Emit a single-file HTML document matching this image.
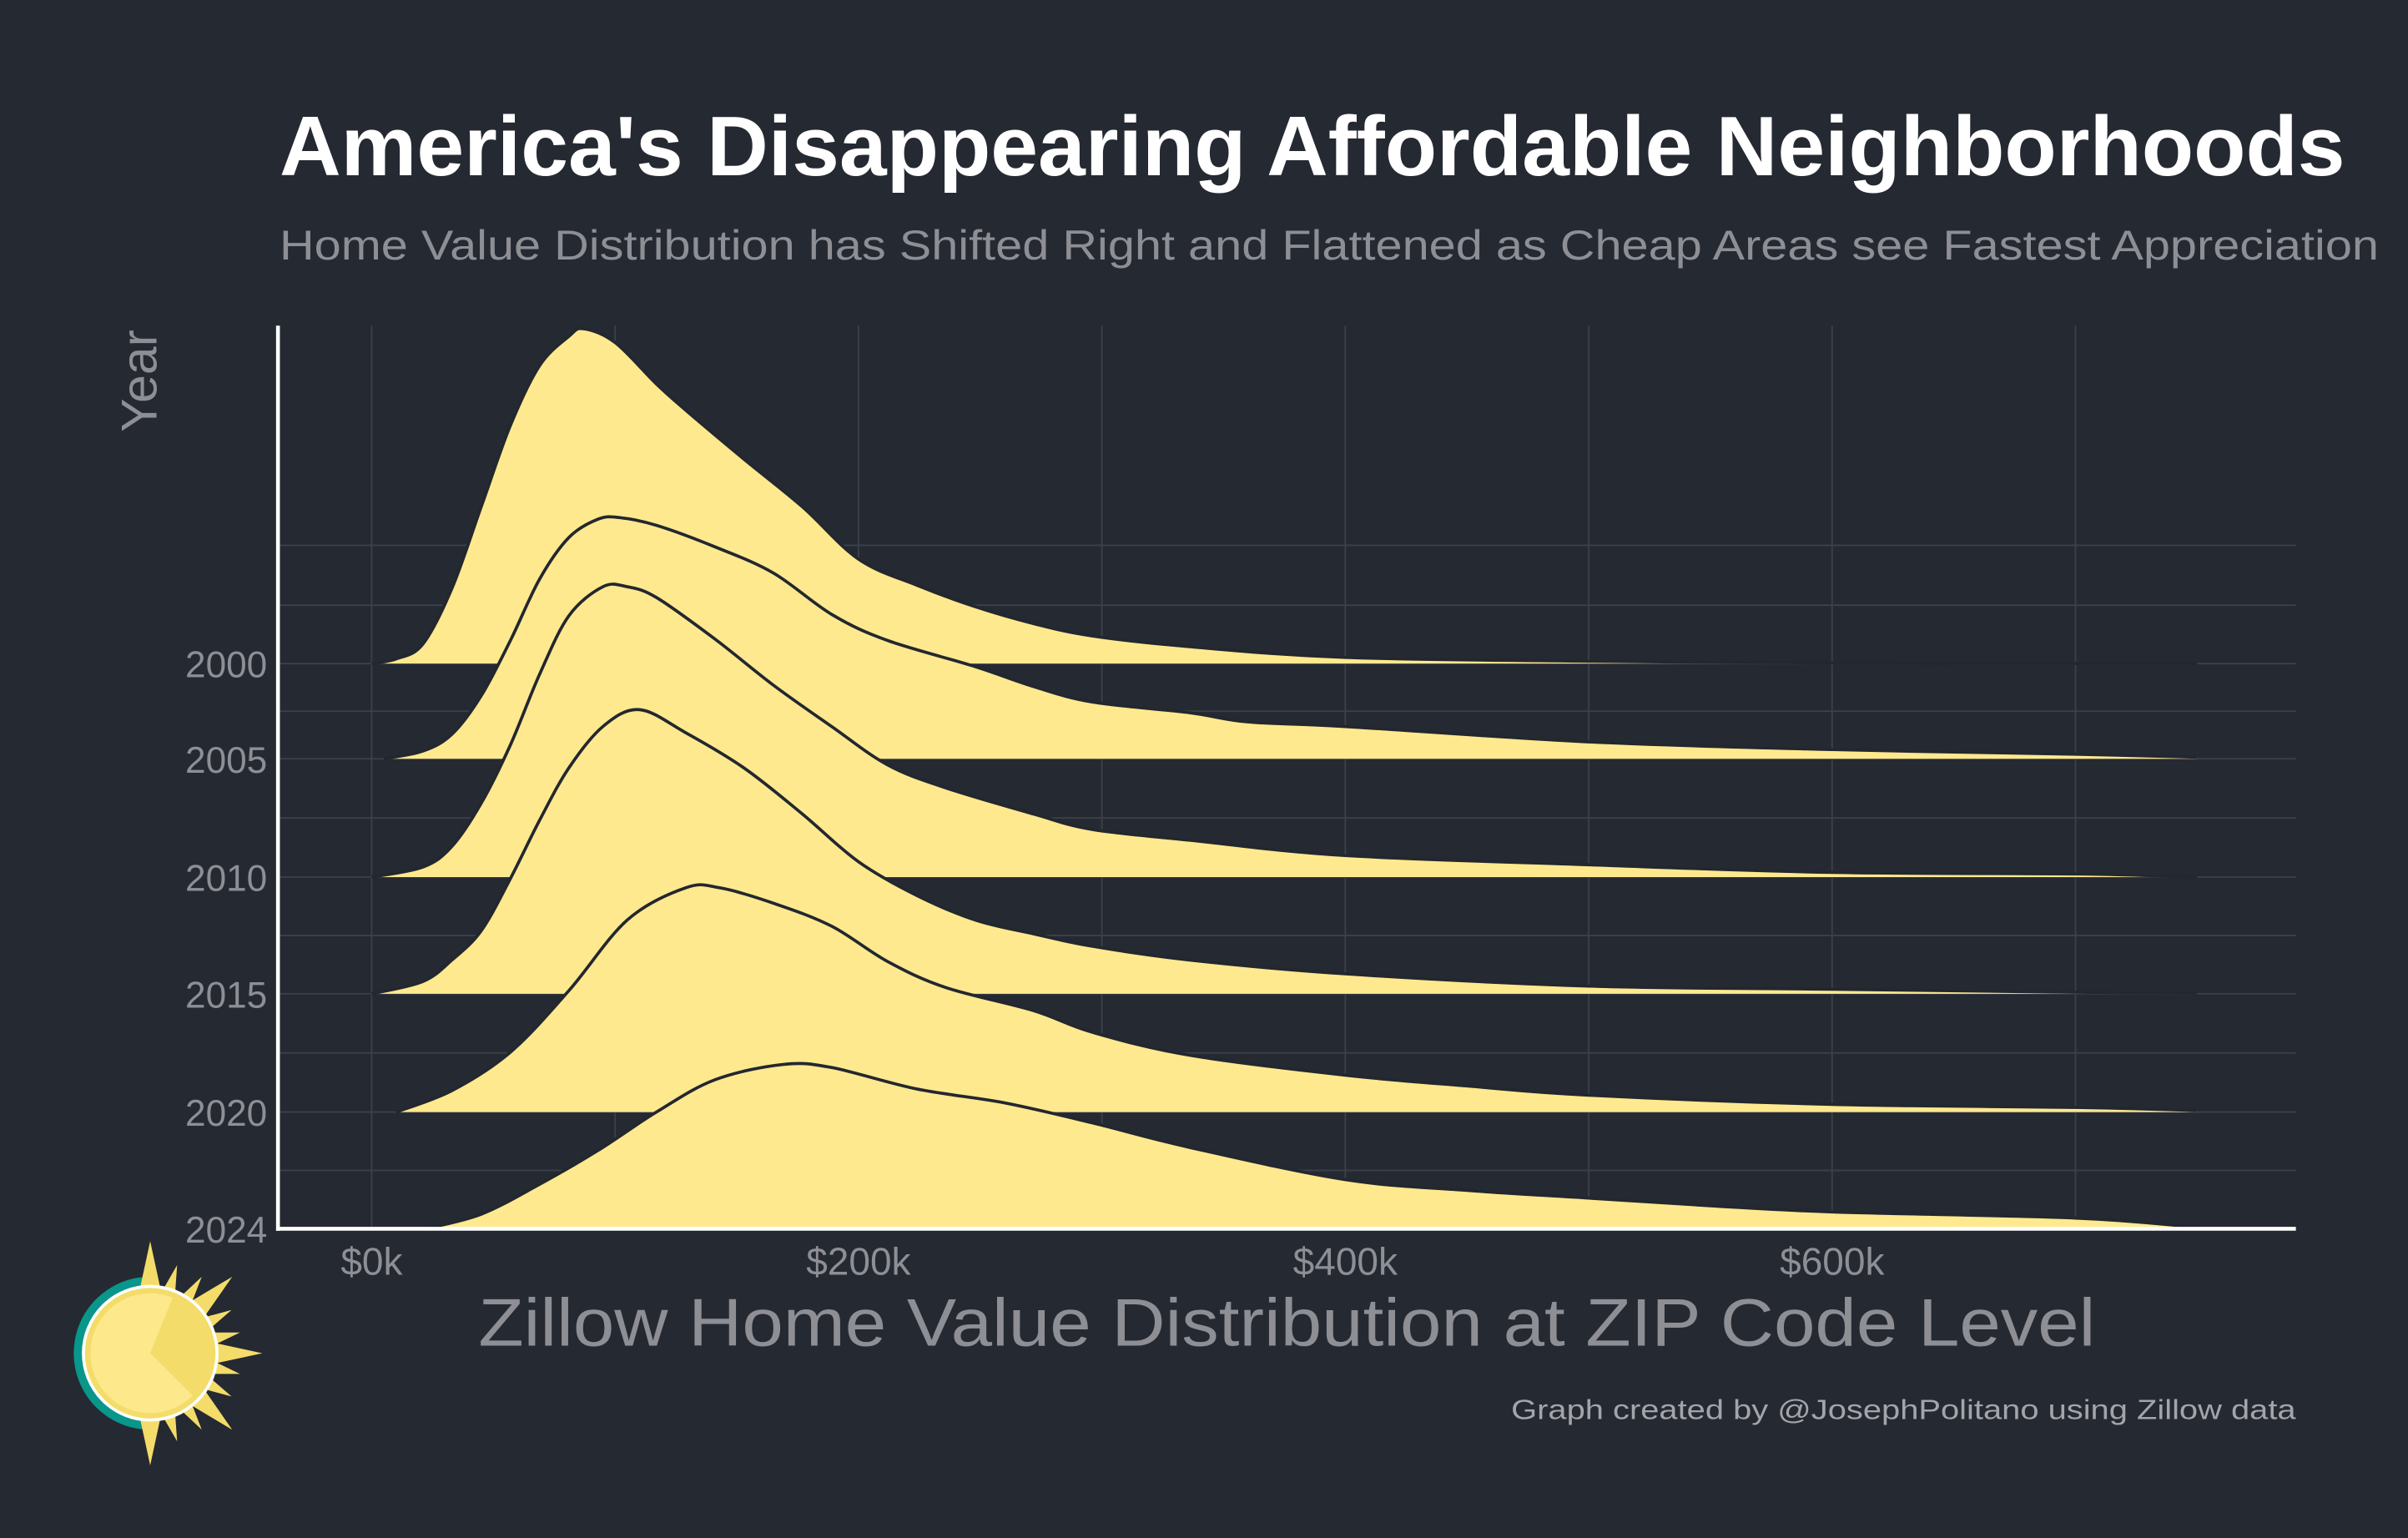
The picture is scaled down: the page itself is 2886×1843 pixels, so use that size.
<!DOCTYPE html>
<html><head><meta charset="utf-8"><style>
html,body{margin:0;padding:0;background:#252932;}
svg{display:block;}
text{font-family:"Liberation Sans",Arial,sans-serif;}
</style></head><body>
<svg id="chart" width="2886" height="1843" viewBox="0 0 1568 1001.3" preserveAspectRatio="none" xmlns="http://www.w3.org/2000/svg">
<rect x="0" y="0" width="1568" height="1002" fill="#252932"/>
<text x="182" y="114" font-size="55" font-weight="bold" fill="#ffffff" textLength="1345" lengthAdjust="spacingAndGlyphs">America's Disappearing Affordable Neighborhoods</text>
<text x="182" y="169" font-size="27" fill="#8d8f95" textLength="1367" lengthAdjust="spacingAndGlyphs">Home Value Distribution has Shifted Right and Flattened as Cheap Areas see Fastest Appreciation</text>
<g id="grid"></g>
<g id="ridges"></g>
<g id="axes"></g>
<text x="102" y="248" font-size="33" fill="#8d8f95" text-anchor="middle" transform="rotate(-90 102 248)">Year</text>
<text x="838" y="876" font-size="44" fill="#8d8f95" text-anchor="middle" textLength="1053" lengthAdjust="spacingAndGlyphs">Zillow Home Value Distribution at ZIP Code Level</text>
<text x="1495" y="924" font-size="18" fill="#a3a5aa" text-anchor="end" textLength="511" lengthAdjust="spacingAndGlyphs">Graph created by @JosephPolitano using Zillow data</text>
<g id="logo"></g>
</svg>
<script>
const years = [2000, 2005, 2010, 2015, 2020, 2024];
const xTickValues = [0, 200, 400, 600];
const xTickLabels = ["$0k", "$200k", "$400k", "$600k"];
const k2000 = [0,10,21,33,45,57,69,81,87,100,117,129,153,177,200,224,248,272,296,336,400,500,600,650,750];
const h2000 = [0,3,12.6,49,102,155,194,213,218,209,182,165,133,102,68,51,37,26,18,11,4,1.5,0.5,0,0];
const k2005 = [5,21,33,45,57,69,81,93,102,117,141,165,189,212,248,272,296,336,360,400,500,600,700,750];
const h2005 = [0,5,16,41,77,117,144,156,157,152,138,121,94,77,60,47,37,30,24,21,11,6,3,1];
const k2010 = [0,21,33,45,57,69,81,95,105,117,141,165,189,212,236,272,296,336,400,500,600,700,750];
const h2010 = [0,6.5,20,48,86,132,170,189,189,182,155,125,98,73,58,41,31,24,14,8,3,2,0];
const k2015 = [0,21,33,45,57,69,81,95,110,129,153,177,200,224,248,272,296,336,400,500,600,700,750];
const h2015 = [0,8,22,41,75,113,147,174,185,170,147,117,86,64,48,39,31,22,13,5,3,1,0.5];
const k2020 = [10,33,57,81,105,129,143,165,189,212,236,272,296,336,400,450,500,600,700,750];
const h2020 = [0,14,39,79,125,146,146,136,121,98,81,66,52,37,24,17,11,5,3,1];
const k2024 = [22,45,69,93,117,141,169,189,224,260,296,336,400,450,500,550,600,700,750];
const h2024 = [0,9.5,29,51,76,97,107,105,91,82,69,53,32,25,20,15,11,7,1];
const seriesK = [k2000,k2005,k2010,k2015,k2020,k2024];
const seriesH = [h2000,h2005,h2010,h2015,h2020,h2024];

const NS = "http://www.w3.org/2000/svg";
const X0 = 242, KPX = (559 - 242) / 200;
function xScale(k){ return X0 + k * KPX; }
const rowDomain = [2000, 2005, 2010, 2015, 2020, 2024];
const rowRange = [432, 494, 571, 647, 724, 800];
function yScale(year){
  const i = rowDomain.indexOf(year);
  return i >= 0 ? rowRange[i] : 355;
}
function hScale(d){ return d * 1.0; }
function mk(tag, attrs, parent){
  const e = document.createElementNS(NS, tag);
  for (const a in attrs) e.setAttribute(a, attrs[a]);
  parent.appendChild(e);
  return e;
}
const grid = document.getElementById('grid');
const gridY = [355, 394];
rowRange.forEach((v, i) => { gridY.push(v); if (i < rowRange.length - 1) gridY.push((v + rowRange[i+1]) / 2); });
gridY.forEach(y => {
  const l = mk('line', {x1:181, x2:1495, y1:y, y2:y, stroke:'#3c4049', 'stroke-width':1}, grid);
  
  
});
for (let k = 0; k <= 700; k += 100) {
  const l = mk('line', {x1:xScale(k), x2:xScale(k), y1:212, y2:800, stroke:'#3c4049', 'stroke-width':1}, grid);
  
  
}
function smoothPath(pts){
  let d = 'M' + pts[0][0].toFixed(2) + ',' + pts[0][1].toFixed(2);
  for (let i = 0; i < pts.length - 1; i++) {
    const p0 = pts[Math.max(0, i-1)], p1 = pts[i], p2 = pts[i+1], p3 = pts[Math.min(pts.length-1, i+2)];
    const c1x = p1[0] + (p2[0]-p0[0]) / 6, c1y = Math.min(p1[1] + (p2[1]-p0[1]) / 6, pts.base);
    const c2x = p2[0] - (p3[0]-p1[0]) / 6, c2y = Math.min(p2[1] - (p3[1]-p1[1]) / 6, pts.base);
    d += ' C' + c1x.toFixed(2) + ',' + c1y.toFixed(2) + ' ' + c2x.toFixed(2) + ',' + c2y.toFixed(2) + ' ' + p2[0].toFixed(2) + ',' + p2[1].toFixed(2);
  }
  return d;
}
const ridges = document.getElementById('ridges');
years.forEach((yr, i) => {
  const base = yScale(yr);
  const ks = seriesK[i], hs = seriesH[i];
  const pts = ks.map((k, j) => [xScale(k), base - hScale(hs[j])]);
  pts.base = base;
  const curve = smoothPath(pts);
  const g = mk('g', {}, ridges);
  
  
  const fill = mk('path', {d: curve + ' L' + xScale(ks[ks.length-1]) + ',' + base + ' L' + xScale(ks[0]) + ',' + base + ' Z', fill:'#ffe98f', stroke:'none'}, g);
  
  
  const line = mk('path', {d: curve, fill:'none', stroke:'#23272f', 'stroke-width':2}, g);
  
  
});
const axes = document.getElementById('axes');
const ya = mk('line', {x1:181, x2:181, y1:212, y2:801.3, stroke:'#ffffff', 'stroke-width':2.5}, axes);


const xa = mk('line', {x1:180, x2:1495, y1:800, y2:800, stroke:'#ffffff', 'stroke-width':2.5}, axes);


years.forEach(yr => {
  const t = mk('text', {x:174, y:yScale(yr) + 9, 'font-size':24, fill:'#8d8f95', 'text-anchor':'end'}, axes);
  t.textContent = String(yr);
  
  
});
xTickValues.forEach((v, i) => {
  const t = mk('text', {x:xScale(v), y:830, 'font-size':25, fill:'#8d8f95', 'text-anchor':'middle'}, axes);
  t.textContent = xTickLabels[i];
  
  
});
const logo = document.getElementById('logo');
const cx = 97.8, cy = 881;
const teal = mk('path', {d:'M'+cx+','+(cy-49.8)+' A49.8,49.8 0 0 0 '+cx+','+(cy+49.8)+' Z', fill:'#08978a'}, logo);


const spikeAngles = [-90,-73,-56,-43,-28,-13,0,13,28,43,56,73,90];
const spikeLong = [1,0,0,1,0,0,1,0,0,1,0,0,1];
spikeAngles.forEach((a, i) => {
  const r = spikeLong[i] ? 73 : 60;
  const w = spikeLong[i] ? 8 : 5.5;
  const rad = a * Math.PI / 180;
  const ux = Math.cos(rad), uy = Math.sin(rad), px = -uy, py = ux;
  const bx = cx + ux * 36, by = cy + uy * 36;
  const p = mk('polygon', {points: (cx+ux*r)+','+(cy+uy*r)+' '+(bx+px*w)+','+(by+py*w)+' '+(bx-px*w)+','+(by-py*w), fill:'#f3dc69'}, logo);
  
  
});
const c1 = mk('circle', {cx:cx, cy:cy, r:43.5, fill:'#f3dc69', stroke:'#ffffff', 'stroke-width':2}, logo);


const c2 = mk('circle', {cx:cx, cy:cy, r:39, fill:'#fde88b'}, logo);


const a1 = -68 * Math.PI/180, a2 = 45 * Math.PI/180;
const wedge = mk('path', {d:'M'+cx+','+cy+' L'+(cx+39*Math.cos(a1))+','+(cy+39*Math.sin(a1))+' A39,39 0 0 1 '+(cx+39*Math.cos(a2))+','+(cy+39*Math.sin(a2))+' Z', fill:'#f3dc69'}, logo);


</script>
</body></html>
